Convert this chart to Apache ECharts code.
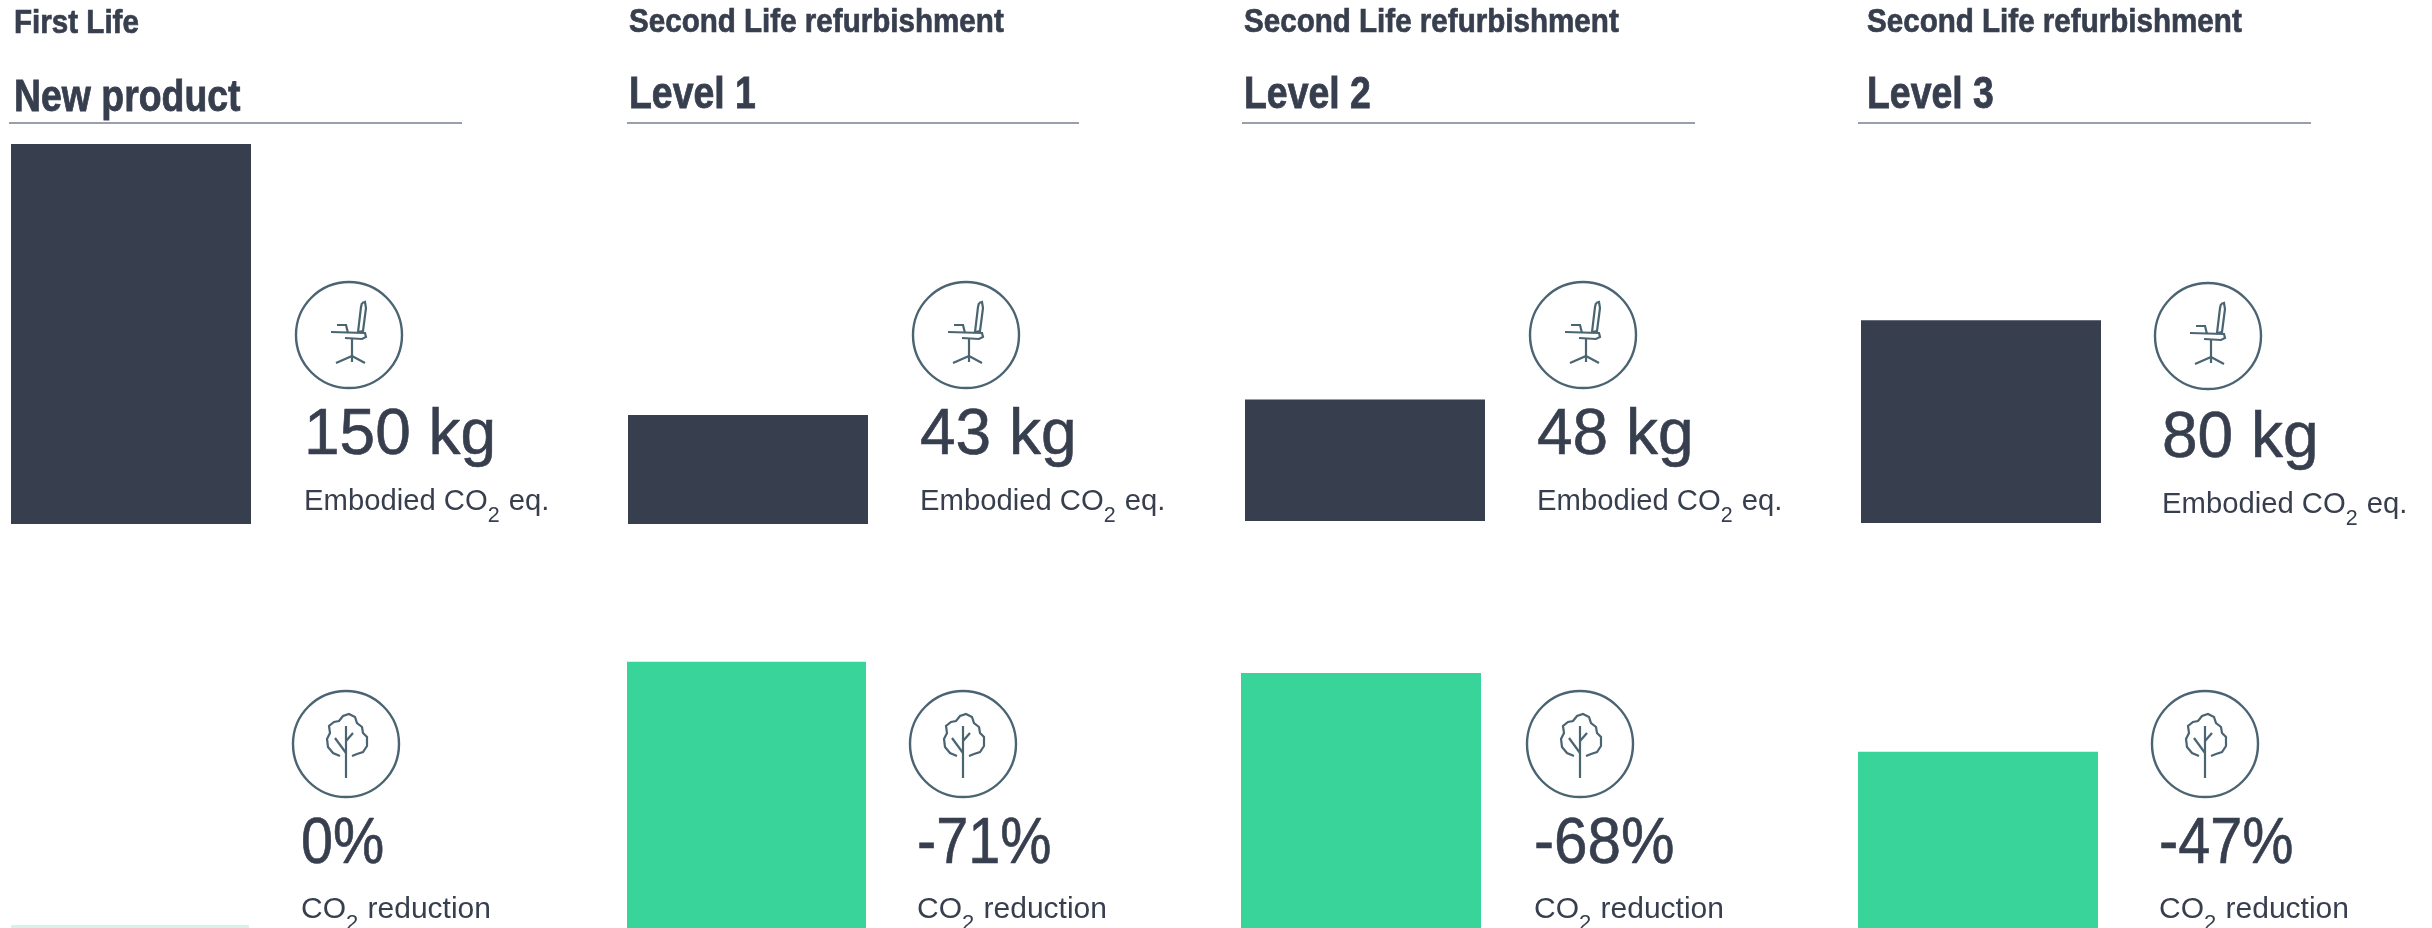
<!DOCTYPE html>
<html><head><meta charset="utf-8">
<script src="https://cdn.jsdelivr.net/npm/echarts@6/dist/echarts.min.js"></script>
<style>html,body{margin:0;padding:0;background:#fff}#c{width:2432px;height:928px}</style></head>
<body><div id="c"></div>
<script>
// ---- data ----
const supertitles = ['First Life','Second Life refurbishment','Second Life refurbishment','Second Life refurbishment'];
const categories = ['New product','Level 1','Level 2','Level 3'];
const embodiedKg = [150,43,48,80];
const reductionPct = [0,71,68,47];

// ---- layout ----
const DARK='#373e4e', GREEN='#38d499', PALE='#d3f5e8', RULE='#9a9fac', ICON='#4a6472';
const SANS='"Liberation Sans"';
const darkBar = [[11,240,524],[628,240,524],[1245,240,521],[1861,240,523]]; // left,width,baseline
const greenBar = [[11,238],[627,239],[1241,240],[1858,240]];
const ruleX = [[9,462],[627,1079],[1242,1695],[1858,2311]];
const superX = [14,629,1244,1867], superY=[41,40,40,40];
const catX = [14,629,1244,1867], catY=[121,118,118,118];
const chairC = [[349,335],[966,335],[1583,335],[2208,336]];
const treeC = [[346,744],[963,744],[1580,744],[2205,744]];
const topX = [304,920,1537,2162], topBase=[468,468,468,471], topSub=[527,527,527,530];
const lowX = [301,917,1534,2159];
const pctSquash = [0.9,0.9,0.94,0.9];
const chairLines = [
  [[13,-32],[16,-33],[17,-27],[14,-4],[9,-3],[12,-28],[13,-32]],
  [[-18,-3],[16,-2],[17,2],[13,4],[-4,3]],
  [[-12,-10],[-3,-10],[-1,-2]],
  [[3,4],[3,21]],
  [[-13,28],[3,21],[16,28]],
  [[3,21],[3,27]]
];
const treeLines = [
  [[-6,12],[-13,9],[-18,3],[-19,-5],[-16,-11],[-17,-18],[-12,-22],[-7,-23],[-3,-28],[3,-30],[9,-27],[11,-21],[16,-17],[17,-11],[21,-7],[21,2],[17,8],[11,10],[6,12]],
  [[0,-18],[0,34]],
  [[-11,-6],[0,9]],
  [[7,-11],[0,-3]]
];

function labelText(x,y,tokens,size,squash){
  return {type:'text',z:10,x,y,scaleX:squash,style:{text:tokens,fill:DARK,font:size+'px '+SANS,textAlign:'left',textVerticalAlign:'bottom',
    rich:{n:{fontFamily:SANS,fontSize:size,fill:DARK,lineHeight:size+10,verticalAlign:'top'},
          s:{fontFamily:SANS,fontSize:Math.round(size*0.72),fill:DARK,lineHeight:size+10,verticalAlign:'bottom',padding:[0,1,0,0]}}}};
}
function icon(c,lines){
  const children=[{type:'circle',shape:{cx:0,cy:0,r:53},style:{fill:'none',stroke:ICON,lineWidth:2.4}}];
  lines.forEach(p=>children.push({type:'polyline',shape:{points:p},style:{fill:'none',stroke:ICON,lineWidth:2.2}}));
  return {type:'group',x:c[0],y:c[1],children};
}

const grid=[],xAxis=[],yAxis=[],series=[],graphic=[];
categories.forEach((cat,i)=>{
  grid.push({left:darkBar[i][0],width:darkBar[i][1],top:darkBar[i][2]-380,height:380});
  grid.push({left:greenBar[i][0],width:greenBar[i][1],top:640,height:288});
  [0,1].forEach(k=>{
    xAxis.push({type:'category',gridIndex:2*i+k,data:[cat],show:false});
    yAxis.push({type:'value',gridIndex:2*i+k,min:0,max:k?76.8:150,show:false});
  });
  series.push({type:'bar',xAxisIndex:2*i,yAxisIndex:2*i,barWidth:'100%',silent:true,data:[embodiedKg[i]],itemStyle:{color:DARK}});
  series.push({type:'bar',xAxisIndex:2*i+1,yAxisIndex:2*i+1,barWidth:'100%',silent:true,barMinHeight:3,
    data:[reductionPct[i]],itemStyle:{color:reductionPct[i]===0?PALE:GREEN}});

  graphic.push({type:'text',x:superX[i],y:superY[i],scaleX:0.87,style:{text:supertitles[i],fill:DARK,stroke:DARK,lineWidth:0.7,font:'bold 34px '+SANS,textAlign:'left',textVerticalAlign:'bottom'}});
  graphic.push({type:'text',x:catX[i],y:catY[i],scaleX:0.85,style:{text:cat,fill:DARK,stroke:DARK,lineWidth:0.8,font:'bold 44px '+SANS,textAlign:'left',textVerticalAlign:'bottom'}});
  graphic.push({type:'line',shape:{x1:ruleX[i][0],y1:123,x2:ruleX[i][1],y2:123},style:{stroke:RULE,lineWidth:2}});
  graphic.push(icon(chairC[i],chairLines));
  graphic.push(icon(treeC[i],treeLines));
  graphic.push({type:'text',x:topX[i],y:topBase[i],style:{text:embodiedKg[i]+' kg',fill:DARK,stroke:DARK,lineWidth:0.6,font:'64px '+SANS,textAlign:'left',textVerticalAlign:'bottom'}});
  graphic.push(labelText(topX[i],topSub[i],'{n|Embodied CO}{s|2}{n| eq.}',30,0.975));
  const pct=reductionPct[i]===0?'0%':'-'+reductionPct[i]+'%';
  graphic.push({type:'text',x:lowX[i],y:877,scaleX:pctSquash[i],style:{text:pct,fill:DARK,stroke:DARK,lineWidth:0.6,font:'64px '+SANS,textAlign:'left',textVerticalAlign:'bottom'}});
  graphic.push(labelText(lowX[i],935,'{n|CO}{s|2}{n| reduction}',30,1));
});

const chart=echarts.init(document.getElementById('c'),null,{renderer:'canvas'});
chart.setOption({animation:false,backgroundColor:'#fff',grid,xAxis,yAxis,series,graphic:{elements:graphic}});
</script></body></html>
